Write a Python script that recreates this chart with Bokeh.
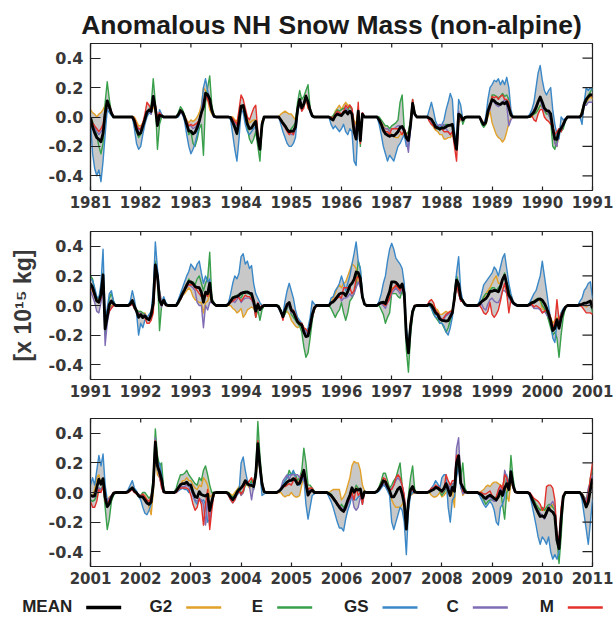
import numpy as np
from bokeh.plotting import figure
from bokeh.layouts import column
from bokeh.models import Range1d, FixedTicker, PrintfTickFormatter, Label, ColumnDataSource, Plot
from bokeh.core.properties import value
from bokeh.embed import file_html
from bokeh.resources import INLINE

TITLE = "Anomalous NH Snow Mass (non-alpine)"
Y_LABEL = "[x 10\u00b9\u2075 kg]"
FIRST_YEAR = 1981
SAMPLES_PER_YEAR = 24          # half-monthly samples, values in 0.01 x 10^15 kg
PANEL_STARTS = [1981, 1991, 2001]
Y_TICKS = [-0.4, -0.2, 0.0, 0.2, 0.4]
MODEL_NAMES = ["G2", "E", "GS", "C", "M"]
LEGEND_NAMES = ["MEAN", "G2", "E", "GS", "C", "M"]
COLORS = ["#000000", "#E1A12A", "#38A04A", "#3A88C8", "#7F6CB5", "#E3322B"]

# one row per year (24 half-month samples), last row = 2011.0
G2 = [
    [5,3,2,0,2,3,5,8,10,6,2,0, 0,0,0,0,0,0,0,0,0,0,-3,-6],
    [-6,-4,-1,2,4,2,8,3,0,1,0,0, 0,0,0,0,0,0,2,5,4,1,-2,-4],
    [-2,-3,-2,0,3,8,20,18,12,5,2,1, 0,0,0,0,0,0,0,0,0,-2,-3,2],
    [5,8,4,-2,-4,-3,-2,-2,-12,-18,-3,0, 0,0,0,0,0,0,0,2,3,4,3,2],
    [2,0,-2,6,10,6,8,12,6,4,1,0, 0,0,0,0,0,0,0,0,0,4,6,8],
    [5,8,10,8,8,4,-2,-5,5,-14,2,0, 0,0,0,0,0,0,-1,-3,-6,-8,-8,-10],
    [-12,-13,-14,-14,-12,-12,-10,-12,-10,-5,6,2, 0,0,0,0,0,0,-2,-4,-7,-9,-10,-12],
    [-12,-15,-15,-14,-14,-12,-15,-20,-4,-2,-1,0, 0,0,0,0,0,0,0,-2,-4,-5,0,4],
    [-4,-8,-12,-14,-15,-17,-15,-10,-4,-1,0,0, 0,0,0,0,0,0,0,0,2,3,5,8],
    [6,4,3,2,0,-10,-18,-20,-10,-8,-5,-2, 0,0,0,0,0,0,0,3,8,10,12,14],
    [12,10,8,5,4,6,15,-10,-6,-2,0,0, 0,0,0,0,0,0,0,1,2,-1,-3,-5],
    [-4,-6,-5,-8,-10,-6,-2,20,18,10,2,3, 0,0,0,0,0,0,3,5,7,8,10,12],
    [10,6,4,3,2,2,-5,2,3,8,2,1, 0,0,0,0,0,0,0,0,-2,-3,-5,-4],
    [-2,-8,-6,-3,-2,-1,-2,-5,0,-2,-1,0, 0,0,0,0,0,0,-1,-4,-6,-5,-4,-6],
    [-10,-12,-14,-15,-14,-12,-15,-18,-18,-12,-8,-2, 0,0,0,0,0,0,0,2,5,8,12,14],
    [12,15,16,20,24,28,27,25,15,15,6,1, 0,0,0,0,0,0,1,2,1,0,2,5],
    [12,12,12,12,10,12,8,-18,-28,-10,-3,0, 0,0,0,0,0,0,1,1,0,-2,-3,-6],
    [-6,-5,-4,-5,-4,-3,3,15,8,4,2,1, 0,0,0,0,0,0,1,3,5,8,10,12],
    [15,18,20,15,15,18,20,15,8,4,2,1, 0,0,0,0,0,0,1,2,3,4,4,3],
    [-2,-3,-4,-6,-8,-12,-10,-8,-10,-5,-3,-1, 0,0,0,0,0,0,0,0,0,-1,0,1],
    [-2,-3,2,10,12,6,8,-3,-5,-3,-2,0, 0,0,0,0,0,0,0,1,2,1,-1,-3],
    [-3,-2,-2,-5,-10,-15,0,25,12,10,5,0, 0,0,0,0,0,1,3,5,8,8,10,8],
    [8,5,3,2,5,4,10,8,5,-3,-2,0, 0,0,0,0,0,0,0,-1,-2,0,2,4],
    [-2,0,6,5,3,5,2,10,20,20,8,1, 0,0,0,0,0,0,0,0,-2,-3,-2,-2],
    [0,-2,-3,-3,-2,5,12,8,2,3,2,0, 0,0,0,0,0,0,0,1,2,2,2,2],
    [-5,-3,0,5,10,18,21,20,20,15,5,1, 0,0,0,0,0,1,3,5,6,5,3,2],
    [-5,-8,-10,-10,-10,-8,-6,-22,-6,-2,-1,0, 0,0,0,0,0,0,0,-2,-3,-3,-2,0],
    [-3,-2,0,2,0,2,-10,20,22,5,-2,0, 0,0,0,0,0,0,0,1,2,4,5,4],
    [6,7,7,6,5,4,10,-2,-6,8,3,1, 0,0,0,0,0,0,-1,-3,-6,-8,-10,-12],
    [-12,-12,-12,-10,-10,-8,-10,-30,-35,-15,-2,0, 0,0,0,0,0,0,0,-1,-3,-5,2,4],
    [5],
]

E = [
    [0,-3,-7,-12,-20,-25,-18,10,24,12,3,0, 0,0,0,0,0,0,0,0,0,-3,-10,-14],
    [-12,-6,-2,3,5,8,26,10,-22,-5,0,0, 0,0,0,0,0,0,3,7,5,1,-5,-12],
    [-10,-18,-20,-15,-8,-5,-26,10,20,28,8,1, 0,0,0,0,0,0,0,0,-3,-5,-12,-2],
    [6,8,0,-8,-15,-18,-15,-10,-20,-30,-8,0, 0,0,0,0,0,0,0,-2,-4,-6,-8,-10],
    [-8,-6,-4,10,18,12,14,18,22,6,1,0, 0,0,0,0,0,0,0,0,1,3,5,4],
    [5,6,6,4,8,5,-8,-12,6,-20,2,0, 0,0,0,0,0,0,0,-2,-4,-6,-6,-8],
    [-6,-5,-4,-2,10,15,-8,-12,-10,-2,12,3, 0,0,0,0,0,0,-2,-5,-6,-8,-8,-9],
    [-6,-6,-5,-5,-6,-5,-15,-20,0,2,-5,-1, 0,0,0,0,0,0,0,-5,-7,-5,2,6],
    [15,15,14,13,14,16,14,15,12,3,0,0, 0,0,0,0,0,0,0,1,2,3,5,8],
    [8,4,2,2,-2,-20,-22,-14,-8,-10,-8,-3, 0,0,0,0,0,0,0,5,8,10,15,17],
    [20,18,10,5,5,10,22,-20,-10,5,8,3, 0,0,0,0,0,0,0,1,3,-2,-3,-4],
    [-4,-5,-6,-8,-10,-6,5,30,22,-17,0,3, 1,0,0,0,0,0,1,4,7,10,14,18],
    [15,16,14,18,20,15,10,15,18,36,5,2, 0,0,0,0,0,0,1,3,6,6,7,6],
    [5,8,10,8,8,6,0,-8,-3,-10,-3,0, 0,0,0,0,0,0,0,-3,-8,-6,-2,0],
    [-6,-8,-10,-12,-14,-18,-28,-35,-32,-22,-10,-3, 0,0,0,0,0,0,0,-2,-5,-8,-5,-3],
    [2,-5,-10,-5,3,5,8,15,30,25,5,1, 0,0,0,0,0,0,0,-3,-6,-12,-8,-5],
    [8,8,8,6,5,10,5,-30,-45,-20,-6,-1, 0,0,0,0,0,0,0,-2,-6,-8,-10,-12],
    [-12,-15,-18,-15,-10,-6,8,20,15,5,4,1, 0,0,0,0,0,0,1,3,6,8,8,10],
    [12,12,10,12,14,18,22,15,12,6,2,1, 0,0,0,0,0,0,1,2,3,4,5,4],
    [0,-2,-5,-10,-15,-20,-18,-22,-35,-20,-8,-2, 0,0,0,0,0,0,0,0,1,2,2,2],
    [-5,-6,-5,-2,3,2,5,-10,-25,-18,-6,-2, 0,0,0,0,0,0,1,2,2,1,0,-2],
    [-2,0,0,-2,-4,-2,10,43,25,18,20,2, 0,0,0,0,0,3,8,12,12,13,15,12],
    [10,8,6,5,10,8,15,18,12,5,0,0, 0,0,0,0,0,0,0,-2,-3,-2,1,3],
    [0,0,5,5,5,8,6,15,48,25,8,1, 0,0,0,0,0,0,1,2,5,8,10,15],
    [12,14,12,8,10,15,30,20,5,5,3,1, 0,0,0,0,0,0,0,-1,-3,-5,-7,-10],
    [-8,-10,-8,-5,-2,2,0,5,3,2,-2,1, 0,0,0,0,0,1,4,8,13,13,8,3],
    [5,8,10,15,20,5,-8,-20,-2,10,18,2, 0,0,0,0,0,0,0,1,2,3,3,1],
    [-2,0,3,5,3,6,3,15,22,10,20,3, 0,0,0,0,0,0,-1,-2,-5,-8,-6,-5],
    [-5,-5,-3,0,2,-8,-18,0,2,25,10,1, 0,0,0,0,0,0,-1,-3,-5,-8,-10,-12],
    [-10,-12,-10,-8,-8,-10,-12,-30,-48,-30,-5,0, 0,0,0,0,0,0,0,-1,-3,-5,0,10],
    [15],
]

GS = [
    [-3,-25,-35,-40,-36,-44,-30,-12,5,3,1,0, 0,0,0,0,0,0,0,0,0,-8,-18,-22],
    [-20,-12,-5,0,3,2,14,5,-5,5,2,0, 0,0,0,0,0,0,0,3,2,-3,-12,-20],
    [-25,-22,-18,-12,-5,5,20,26,18,12,5,0, 0,0,0,0,0,0,0,-2,-12,-22,-30,-15],
    [5,3,-5,-10,-12,-10,-8,-6,-15,-20,-5,0, 0,0,0,0,0,0,0,-5,-10,-14,-18,-20],
    [-20,-18,-14,2,12,5,8,14,10,3,0,0, 0,0,0,0,0,0,0,-5,-8,-6,-8,-10],
    [-8,-5,-10,-12,-8,-10,-30,-33,-2,-15,0,0, 0,0,0,0,0,0,-5,-12,-20,-25,-30,-26],
    [-28,-30,-25,-20,-18,-15,-12,-20,-20,-8,8,1, 0,0,0,0,0,0,5,10,4,-3,-6,-7],
    [-5,-2,5,10,16,12,-10,-18,12,8,-2,0, 0,0,0,0,0,0,0,-3,-5,0,12,20],
    [22,25,24,26,22,25,22,27,20,5,0,0, 0,0,0,0,0,0,2,5,10,20,30,35],
    [25,18,15,18,20,5,-5,-12,-15,0,-2,-1, 0,0,0,0,0,0,0,-5,10,20,18,20],
    [18,17,12,6,5,15,38,-10,-2,8,10,3, 0,0,0,0,0,0,0,3,10,4,-5,-20],
    [-12,-15,-10,-8,-6,-4,10,43,25,10,2,6, 2,0,0,0,0,0,4,8,12,16,20,23],
    [28,26,24,28,30,22,15,20,16,18,3,1, 0,0,0,0,0,0,2,8,15,20,18,22],
    [33,35,28,30,25,27,15,8,5,2,0,0, 0,0,0,0,0,0,-2,-5,-6,3,10,15],
    [10,5,-3,-8,-10,-12,-16,-18,-15,-8,3,1, 0,0,0,0,0,0,0,5,6,10,12,15],
    [20,15,10,15,20,28,35,43,30,25,8,1, 0,0,0,0,0,0,3,8,15,20,30,38],
    [42,38,32,30,28,25,15,-15,-25,-12,-3,-1, 0,0,0,0,0,0,0,-2,-5,-8,-8,-12],
    [-12,-14,-18,-20,-15,-8,8,22,33,10,3,0, 0,0,0,0,0,0,3,8,14,16,18,20],
    [22,26,24,20,26,32,35,25,15,8,3,1, 0,0,0,0,0,0,2,5,8,10,15,20],
    [30,20,10,0,-10,-22,-25,-12,-10,-5,-2,-1, 0,0,0,0,0,0,3,5,10,12,15,16],
    [5,10,5,15,25,18,26,5,-5,-8,-3,-1, 0,0,0,0,0,0,2,5,8,3,1,-3],
    [-5,-10,-14,-15,-12,-8,5,30,15,20,12,1, 0,0,0,0,0,0,1,2,3,2,2,0],
    [6,-2,-6,-8,-4,-6,-5,-8,-20,-18,-8,-1, 0,0,0,0,0,0,-2,-5,-7,-5,-2,0],
    [20,24,15,8,5,6,2,10,28,15,-2,-1, 0,0,0,0,0,0,1,3,5,8,10,12],
    [12,15,10,5,5,8,10,-8,-18,-10,-2,-1, 0,0,0,0,0,0,-3,-6,-10,-15,-20,-24],
    [-24,-26,-18,-12,-8,-2,-5,-5,-3,-2,-8,0, 0,0,0,0,0,0,1,3,5,4,1,-2],
    [-20,-25,-20,-15,-10,-12,-20,-42,-12,-2,0,0, 0,0,0,0,0,0,1,3,5,8,6,3],
    [10,12,12,-10,-20,-5,-3,10,18,3,0,0, 0,0,0,0,0,0,-2,-5,-8,-10,-8,-6],
    [-8,-12,-20,-22,-10,-8,-3,12,5,15,5,1, 0,0,0,0,0,0,-2,-8,-15,-22,-30,-35],
    [-30,-32,-35,-30,-40,-45,-42,-45,-40,-20,-3,0, 0,0,0,0,0,0,0,-5,-15,-25,-35,-20],
    [-5],
]

C = [
    [-2,-5,-8,-10,-12,-10,-8,2,6,6,3,0, 0,0,0,0,0,0,0,0,0,-2,-6,-9],
    [-8,-5,-2,2,4,2,10,5,-2,2,1,0, 0,0,0,0,0,0,1,3,2,0,-3,-6],
    [-6,-8,-7,-5,-2,4,12,12,14,8,4,0, 0,0,0,0,0,0,0,0,-2,-4,-6,-2],
    [6,8,3,-4,-7,-8,-6,-5,-14,-20,-5,0, 0,0,0,0,0,0,0,-3,-5,-7,-9,-10],
    [-12,-12,-8,3,10,4,8,12,8,5,1,0, 0,0,0,0,0,0,0,-1,-2,1,3,2],
    [1,2,6,4,4,5,-5,-10,1,-13,3,0, 0,0,0,0,0,0,-2,-4,-7,-8,-8,-10],
    [-8,-8,-7,-6,-6,-8,-8,-15,-24,-8,8,2, 0,0,0,0,0,0,-2,-4,-5,-6,-6,-5],
    [-6,-5,-8,-10,-12,-10,-14,-22,4,-2,-1,0, 0,0,0,0,0,0,0,-3,-5,-4,2,5],
    [12,10,8,7,8,10,12,8,-6,-2,0,0, 0,0,0,0,0,0,0,2,5,8,10,12],
    [6,4,4,2,-2,-10,-18,-20,-8,-10,-6,-2, 0,0,0,0,0,0,0,3,8,8,10,10],
    [10,6,2,-4,-5,2,12,-27,-12,-4,-1,0, 0,0,0,0,0,0,0,0,1,-2,-4,-5],
    [-5,-7,-6,-8,-10,-5,0,22,17,7,-1,3, 0,0,0,0,0,0,2,4,7,10,12,14],
    [13,12,10,2,0,0,-15,0,-3,2,2,1, 0,0,0,0,0,0,1,2,3,2,4,6],
    [2,4,5,5,5,4,0,-6,0,-2,-1,0, 0,0,0,0,0,0,-1,-4,-8,-4,-1,0],
    [-5,-4,-6,-10,-12,-12,-16,-18,-20,-15,-8,-2, 0,0,0,0,0,0,0,2,3,5,6,7],
    [3,5,5,6,8,6,8,12,16,12,5,1, 0,0,0,0,0,0,1,1,0,-2,2,4],
    [8,10,12,10,8,12,6,-20,-30,-14,-4,0, 0,0,0,0,0,0,1,0,-2,-4,-5,-7],
    [-10,-9,-7,-6,-5,-4,3,14,8,3,3,1, 0,0,0,0,0,0,0,1,-2,-3,1,4],
    [5,3,2,2,5,10,10,8,5,3,1,0, 0,0,0,0,0,0,0,0,-2,-2,-2,-3],
    [-5,-4,-6,-8,-10,-16,-12,-10,-12,-6,-3,-1, 0,0,0,0,0,0,0,0,0,0,0,1],
    [-2,-3,-3,0,3,2,4,-2,-5,-4,-2,0, 0,0,0,0,0,0,0,1,2,0,0,-1],
    [-3,-2,-6,-8,-8,-4,5,37,18,10,4,0, 0,0,0,0,0,1,2,4,4,4,5,4],
    [2,-2,-5,-6,-4,-5,-8,-22,-5,-20,-8,0, 0,0,0,0,0,0,-1,-3,-5,-3,0,2],
    [-2,0,8,6,4,-5,4,13,34,15,8,1, 0,0,0,0,0,0,1,3,8,10,12,9],
    [12,12,12,12,10,12,8,3,0,2,2,0, 0,0,0,0,0,0,-1,-2,-4,-6,-8,-9],
    [-10,-12,-12,-8,-5,-2,-10,-12,-10,-3,-6,0, 0,0,0,0,0,1,2,4,6,5,3,1],
    [3,5,8,10,8,5,-2,-18,-5,1,1,0, 0,0,0,0,0,0,1,2,3,4,4,2],
    [0,2,3,5,2,6,6,30,37,6,-1,0, 0,0,0,0,0,0,-1,-2,-4,-5,-4,-3],
    [-5,-6,-6,0,3,0,15,10,6,10,3,0, 0,0,0,0,0,0,-1,-4,-7,-10,-12,-14],
    [-15,-18,-15,-10,-8,-6,-10,-28,-35,-15,-3,0, 0,0,0,0,0,0,0,-1,-3,-6,3,6],
    [12],
]

M = [
    [-1,-4,-6,-8,-10,-8,-5,3,10,8,4,0, 0,0,0,0,0,0,0,0,0,-1,-5,-8],
    [-8,-4,2,10,8,5,12,8,0,3,1,0, 0,0,0,0,0,0,2,4,3,0,-3,-6],
    [-5,-6,-5,-4,-2,2,8,15,12,8,4,1, 0,0,0,0,0,0,0,0,-1,-3,-5,5],
    [15,12,6,0,-2,2,6,8,-10,-22,-4,0, 0,0,0,0,0,0,0,-2,-5,-7,-10,-12],
    [-10,-12,-6,4,10,4,6,15,6,5,1,0, 0,0,0,0,0,0,0,0,-1,2,4,3],
    [2,4,8,6,8,6,-5,-15,10,-18,3,0, 0,0,0,0,0,0,-2,-4,-8,-10,-10,-12],
    [-8,-8,-8,-8,-10,-12,-8,-12,-16,-4,12,2, 0,0,0,0,0,0,-3,-5,-6,-8,-7,-8],
    [-8,-10,-10,-10,-12,-10,-20,-30,-2,-1,-1,0, 0,0,0,0,0,0,0,-2,-5,-4,4,6],
    [14,13,14,12,14,15,12,12,10,2,0,0, 0,0,0,0,0,0,0,1,-2,-3,2,5],
    [5,0,-2,-3,-5,-5,-12,-10,-8,-10,-5,-2, 0,0,0,0,0,0,0,4,10,12,14,15],
    [14,10,6,3,2,5,16,-12,-8,-4,-2,0, 0,0,0,0,0,0,0,0,1,-2,-4,-6],
    [-6,-8,-8,-12,-12,-10,-5,22,18,8,0,3, 0,0,0,0,0,0,2,4,7,10,13,14],
    [14,14,12,10,8,6,6,8,6,12,3,1, 0,0,0,0,0,0,1,2,3,4,6,5],
    [3,5,7,6,6,4,2,-8,2,-2,0,0, 0,0,0,0,0,0,-1,-4,-10,-3,0,1],
    [-4,-3,-6,-10,-12,-12,-15,-16,-18,-14,-8,-3, 0,0,0,0,0,0,0,2,3,5,5,6],
    [5,12,12,12,12,8,10,18,20,15,5,1, 0,0,0,0,0,0,1,2,1,0,2,5],
    [10,12,14,12,10,14,6,-20,-32,-14,-4,0, 0,0,0,0,0,0,3,4,2,-3,-5,-8],
    [-10,-8,-6,-5,-4,-4,3,15,8,3,3,1, 0,0,0,0,0,0,0,-2,-5,-6,-4,2],
    [-6,-8,-6,-3,3,10,15,8,-5,4,2,1, 0,0,0,0,0,0,0,1,-1,0,-1,-2],
    [-5,-4,-3,-4,-8,-15,-12,4,-10,-6,-4,-1, 0,0,0,0,0,0,0,-1,-3,-5,-5,-5],
    [-6,-10,-10,-6,2,0,4,-6,-8,-5,-3,0, 0,0,0,0,0,0,0,1,2,0,-1,-2],
    [-2,-1,-3,-5,-6,-3,5,35,20,12,3,0, 0,0,0,0,0,0,2,3,3,3,3,2],
    [-2,-8,-12,-10,-4,-8,-22,-8,2,-25,-12,-1, 0,0,0,0,0,0,-2,-5,-7,-5,-1,1],
    [-1,1,6,6,8,10,6,12,35,15,6,1, 0,0,0,0,0,0,1,2,4,4,5,6],
    [5,8,10,6,8,12,15,8,2,3,3,0, 0,0,0,0,0,0,-1,-2,-4,-5,-7,-9],
    [-12,-13,-10,-6,-4,0,-5,3,-2,0,-8,0, 0,0,0,0,0,1,3,5,10,9,5,2],
    [2,5,10,12,10,5,-2,-22,-5,2,2,0, 0,0,0,0,0,0,1,3,3,5,4,3],
    [0,2,12,8,5,8,8,25,25,8,1,0, 0,0,0,0,0,0,0,0,-1,-1,0,1],
    [-2,-4,-3,2,5,2,12,10,3,12,4,0, 0,0,0,0,0,0,0,-2,-4,-5,-6,-8],
    [-12,-10,4,5,5,3,-5,-28,-32,-10,-2,0, 0,0,0,0,0,0,0,-1,-4,-8,-2,10],
    [20],
]


def flat(rows):
    for r in rows[:-1]:
        assert len(r) == SAMPLES_PER_YEAR, r
    out = []
    for r in rows:
        out.extend(r)
    return np.array(out, dtype=float) / 100.0


series = {name: flat(rows) for name, rows in zip(MODEL_NAMES, [G2, E, GS, C, M])}
n = len(series["G2"])
t = FIRST_YEAR + np.arange(n) / SAMPLES_PER_YEAR
stack = np.vstack([series[k] for k in MODEL_NAMES])
mean = stack.mean(axis=0)
lo = stack.min(axis=0)
hi = stack.max(axis=0)

AX_COL = "#222222"
LBL_COL = "#383838"
HAS_FRAME_ALIGN = "frame_align" in Plot.properties()


def make_panel(start, frame_h, b_top, b_bottom, ylabel=None):
    p = figure(frame_width=502, frame_height=frame_h,
               x_range=Range1d(start, start + 10), y_range=Range1d(-0.5, 0.5),
               min_border_left=90, min_border_right=24,
               min_border_top=b_top, min_border_bottom=b_bottom,
               output_backend="svg", toolbar_location=None)
    i0 = (start - FIRST_YEAR) * SAMPLES_PER_YEAR
    i1 = i0 + 10 * SAMPLES_PER_YEAR + 1
    data = dict(t=t[i0:i1], lo=lo[i0:i1], hi=hi[i0:i1], MEAN=mean[i0:i1])
    for k in MODEL_NAMES:
        data[k] = series[k][i0:i1]
    src = ColumnDataSource(data)
    p.varea(x="t", y1="lo", y2="hi", source=src, fill_color="#C8C8C8")
    for name, col in zip(MODEL_NAMES, COLORS[1:]):
        p.line("t", name, source=src, line_color=col, line_width=1.4, line_join="round")
    p.line("t", "MEAN", source=src, line_color=COLORS[0], line_width=2.8, line_join="round")

    p.grid.visible = False
    p.outline_line_color = AX_COL
    p.outline_line_width = 1.2

    xticks = list(range(start, start + 11))
    bx = p.below[0]
    ly = p.left[0]
    bx.ticker = FixedTicker(ticks=xticks)
    ly.ticker = FixedTicker(ticks=Y_TICKS)
    ly.formatter = PrintfTickFormatter(format="%.1f")
    bx.major_tick_in = 4
    ly.major_tick_in = 10
    for ax in (bx, ly):
        ax.major_tick_out = 0
        ax.minor_tick_line_color = None
        ax.axis_line_color = AX_COL
        ax.axis_line_width = 1.2
        ax.major_tick_line_color = AX_COL
        ax.major_tick_line_width = 1.2
        ax.major_label_text_font = "DejaVu Sans"
        ax.major_label_text_font_style = "bold"
        ax.major_label_text_color = LBL_COL
    bx.major_label_text_font_size = "15px"
    bx.major_label_standoff = 5
    ly.major_label_text_font_size = "16px"
    ly.major_label_standoff = 7
    # inward ticks on the top and right frame edges (mirrors of the axis ticks)
    p.ray(x=xticks, y=[0.5] * len(xticks), length=4, length_units="screen",
          angle=-np.pi / 2, line_color=AX_COL, line_width=1.2)
    p.ray(x=[start + 10] * len(Y_TICKS), y=Y_TICKS, length=10, length_units="screen",
          angle=np.pi, line_color=AX_COL, line_width=1.2)
    if ylabel:
        ly.axis_label = ylabel
        ly.axis_label_text_font = "Liberation Sans"
        ly.axis_label_text_font_style = "bold"
        ly.axis_label_text_font_size = "23px"
        ly.axis_label_text_color = LBL_COL
        ly.axis_label_standoff = 10
    return p


def blank(h):
    kw = dict(frame_align=False) if HAS_FRAME_ALIGN else {}
    f = figure(frame_width=616, frame_height=h, x_range=Range1d(0, 616), y_range=Range1d(0, h),
               min_border=0, min_border_left=0, min_border_right=0,
               min_border_top=0, min_border_bottom=0,
               x_axis_location=None, y_axis_location=None,
               output_backend="svg", toolbar_location=None, **kw)
    f.outline_line_color = None
    f.grid.visible = False
    return f


head = blank(43)
head.add_layout(Label(x=331, y=33.5, text=TITLE, text_align="center", text_baseline="top",
                      text_font="Liberation Sans", text_font_style="bold",
                      text_font_size="26.5px", text_color="#1a1a1a"))

p1 = make_panel(PANEL_STARTS[0], 147, 0, 40)
p2 = make_panel(PANEL_STARTS[1], 148, 1, 39, ylabel=Y_LABEL)
p3 = make_panel(PANEL_STARTS[2], 148, 0, 23)

# legend strip (label followed by a short line sample)
LEG_X = [85.7, 185.7, 276.7, 382.0, 472.3, 567.3]
leg = blank(29)
leg_src = ColumnDataSource(dict(
    tx=[x - 14 for x in LEG_X], ty=[21.8] * 6, txt=LEGEND_NAMES,
    x0=LEG_X, x1=[x + 35 for x in LEG_X], y=[11] * 6, col=COLORS,
    w=[3.5, 2.6, 2.6, 2.6, 2.6, 2.6]))
leg.text(x="tx", y="ty", text="txt", source=leg_src, text_align="right", text_baseline="top",
         text_font=value("Liberation Sans"), text_font_style="bold", text_font_size="17px",
         text_color="#222222")
leg.segment(x0="x0", y0="y", x1="x1", y1="y", source=leg_src, line_color="col", line_width="w")

layout = column(head, p1, p2, p3, leg, spacing=0)
open("out.html", "w").write(file_html(layout, INLINE, title="Anomalous NH Snow Mass"))
